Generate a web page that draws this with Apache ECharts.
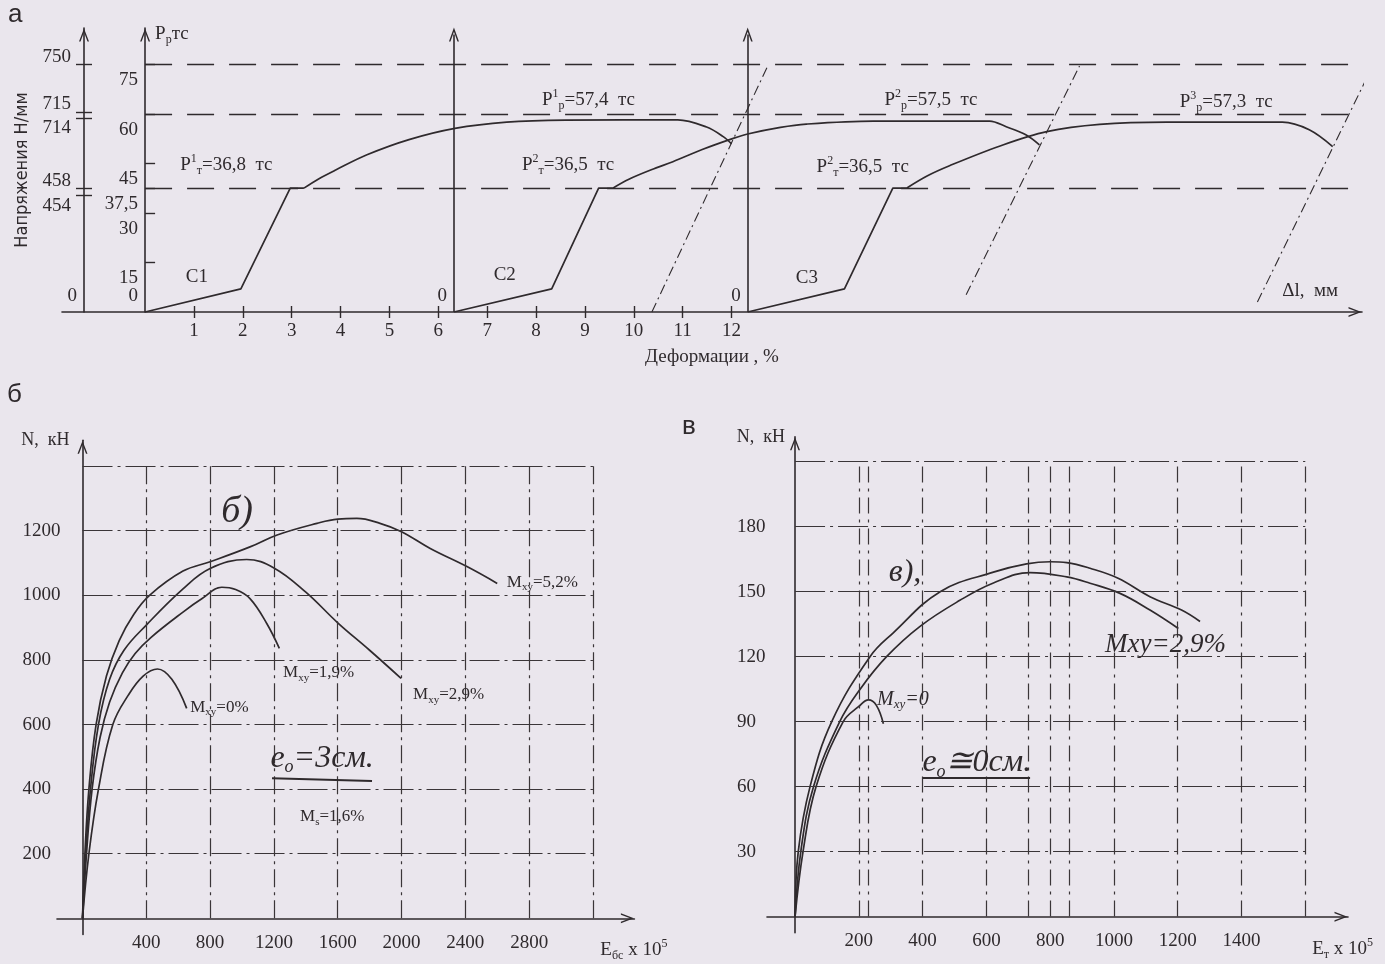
<!DOCTYPE html>
<html><head><meta charset="utf-8">
<script src="https://cdn.jsdelivr.net/npm/echarts@6/dist/echarts.min.js"></script>
<style>html,body{margin:0;padding:0;background:#eae6ed;}#c{width:1385px;height:964px;}</style>
</head><body><div id="c"></div>
<script>
// ================= DATA =================
// Panel а : load (тс) versus strain (%)
const strainTicks = [1,2,3,4,5,6,7,8,9,10,11,12];
const loadTicks = [15, 30, 37.5, 45, 60, 75];
const stressText = ['750','715','714','458','454'];
const stressAt = [75, 60.6, 58.8, 37.5, 35.4];          // level on the load scale
const specimenOrigin = [0, 6.32, 12.33];
const specimenName = ['C1','C2','C3'];
const yieldSup = ['1','2','2'];
const yieldLoad = [36.8, 36.5, 36.5];
const ultSup = ['1','2','3'];
const ultimateLoad = [57.4, 57.5, 57.3];
const levelLoad = [75, 60, 37.5];
const c1Elastic = [[0,0],[1.96,7],[2.97,37.5],[3.25,37.5]];
const c1Hardening = [[3.25,37.5],[3.55,40.3],[3.9,43.0],[4.54,47.6],[5.4,52.2],[6.34,55.6],[7.4,57.5],[8.6,58.1],[10.9,58.2],[11.49,56],[11.83,53.1],[12.0,50.9]];
const c2Elastic = [[6.32,0],[8.32,7],[9.28,37.5],[9.57,37.5]];
const c2Hardening = [[9.57,37.5],[9.9,40.2],[10.4,43.3],[10.8,45.5],[11.4,49.2],[12.02,52.5],[12.33,53.9],[13.0,55.9],[13.53,56.9],[14.9,57.8],[17.28,57.8],[17.62,56.1],[18.03,53.6],[18.3,50.6]];
const c3Elastic = [[12.33,0],[14.31,7],[15.3,37.5],[15.58,37.5]];
const c3Hardening = [[15.58,37.5],[16.0,41.2],[16.46,44.3],[17.48,50.2],[18.45,54.6],[19.53,56.8],[20.9,57.5],[23.27,57.5],[23.82,55.2],[24.3,50.1]];
const ruptureLines = [[[10.37,0],[12.74,74.5]],[[16.8,5.2],[19.12,74.5]],[[22.76,3],[25.1,74]]];

// Panel б : N (кН) versus E_бс x 10^5
const bETicks = [400,800,1200,1600,2000,2400,2800];
const bNTicks = [200,400,600,800,1000,1200];
const bGridE = [400,800,1200,1600,2000,2400,2800,3200];
const bGridN = [200,400,600,800,1000,1200,1400];
const bCurve52 = [[0,0],[15,200],[40,400],[85,600],[150,750],[230,860],[320,940],[420,1000],[630,1075],[800,1104],[1050,1150],[1220,1187],[1470,1223],[1600,1236],[1720,1238],[1865,1223],[2000,1197],[2180,1145],[2410,1089],[2600,1037]];
const bCurve29 = [[0,0],[20,200],[50,400],[100,600],[170,740],[260,830],[400,908],[630,1020],[800,1083],[1029,1111],[1200,1085],[1400,1010],[1600,915],[1800,830],[1997,743]];
const bCurve19 = [[0,0],[25,200],[60,400],[110,560],[170,670],[250,760],[330,820],[430,870],[632,949],[750,990],[873,1025],[960,1018],[1050,990],[1155,913],[1234,836]];
const bCurve0  = [[0,0],[40,200],[100,400],[190,600],[287,691],[380,750],[470,772],[560,740],[653,650]];
const bMxy = ['5,2%','2,9%','1,9%','0%'];
const bMs = '1,6%';

// Panel в : N (кН) versus E_т x 10^5
const cETicks = [200,400,600,800,1000,1200,1400];
const cNTicks = [30,60,90,120,150,180];
const cGridE = [200,230,400,600,730,800,860,1000,1200,1400,1600];
const cGridN = [30,60,90,120,150,180,210];
const cCurveA = [[0,0],[10,30],[47,60],[115,90],[235,120],[308,131],[455,150],[622,159],[726,162.8],[800,163.8],[852,163.4],[925,160.8],[1013,156.2],[1113,147.7],[1212,141.5],[1270,136.2]];
const cCurveB = [[0,0],[18,30],[58,60],[140,90],[204,105],[287,120],[392,134],[517,146],[622,154],[737,158.8],[852,156.8],[925,153.9],[1019,149.2],[1113,141.5],[1202,133]];
const cCurve0 = [[0,0],[25,30],[66,60],[151,90],[200,97],[230,100],[255,97.5],[277,89]];
const cMxy = '2,9%';

// ================= LAYOUT / STYLE =================
const INK = '#2f2a2d';
const SERIF = "'Liberation Serif','DejaVu Serif',serif";
const SANS = "'Liberation Sans','DejaVu Sans',sans-serif";
const NARROW = "'Liberation Sans Narrow','DejaVu Sans Condensed','Liberation Sans',sans-serif";
const CHEV = 'path://M5,0 L10,13 L8.5,13 L5,3.8 L1.5,13 L0,13 Z';
const P_PER_PX = 86/284;
const fmt = v => String(v).replace('.', ',');
const plain = v => String(v);
const nearestIdx = (arr, v) => { let b=0; arr.forEach((a,i)=>{ if(Math.abs(a-v)<Math.abs(arr[b]-v)) b=i; }); return b; };

const RICH = {
  t:{fontFamily:SERIF,fontSize:19,color:INK,lineHeight:24},
  sup:{fontFamily:SERIF,fontSize:12,color:INK,lineHeight:12,verticalAlign:'top'},
  sub:{fontFamily:SERIF,fontSize:12,color:INK,lineHeight:12,verticalAlign:'bottom'},
  m:{fontFamily:SERIF,fontSize:17,color:INK,lineHeight:22},
  ms:{fontFamily:SERIF,fontSize:11,color:INK,lineHeight:11,verticalAlign:'bottom'},
  h:{fontFamily:SERIF,fontStyle:'italic',fontSize:32,color:INK,lineHeight:36},
  hs:{fontFamily:SERIF,fontStyle:'italic',fontSize:18,color:INK,lineHeight:18,verticalAlign:'bottom'},
  hb:{fontFamily:SERIF,fontStyle:'italic',fontSize:38,color:INK,lineHeight:40},
  hm:{fontFamily:SERIF,fontStyle:'italic',fontSize:27,color:INK,lineHeight:30},
  hn:{fontFamily:SERIF,fontStyle:'italic',fontSize:20,color:INK,lineHeight:22},
  hns:{fontFamily:SERIF,fontStyle:'italic',fontSize:13,color:INK,lineHeight:13,verticalAlign:'bottom'}
};

// label anchors (data units of each panel)
const aYieldAt = [[0.72,44.5],[7.71,44.5],[13.74,43.9]];
const aUltAt = [[8.12,64.2],[15.13,64.2],[21.17,63.7]];
const aNameAt = [[1.06,10.6],[7.36,11.2],[13.54,10.3]];
const aDeltaAt = [23.27,6.4];
const stressAxisDataX = -1.7 + 22/48.87;
const stressNudgePx = [7,8,-10,7,-11];

const bMxyAt = [[2660,1041],[2072,692],[1257,762],[675,654]];
const bMsAt = [1364,314];
const bTitleAt = [969,1258];
const bEccAt = [1502,496];
const bEccLine = [[1188,434],[1815,425]];

const cTitleAt = [345,159];
const cMxyAt = [972,125.4];
const cM0At = [257,100];
const cEccAt = [570,71];
const cEccLine = [[401,64],[737,64]];

// ================= HELPERS =================
const lineSt = {color:INK,width:1.6};
const arrowLine = {show:true,onZero:false,symbol:['none',CHEV],symbolSize:[10,14],symbolOffset:[0,-7],lineStyle:lineSt};
function curve(xi, data, smooth){
  return {type:'line', xAxisIndex:xi, yAxisIndex:xi===0?0:(xi===2?3:4), data, smooth:smooth||false,
    symbol:'none', silent:true, lineStyle:{color:INK,width:1.7}, z:4};
}
function marks(xi, yi, pairs, style, endSym){
  return {type:'line', xAxisIndex:xi, yAxisIndex:yi, data:[], silent:true,
    markLine:{silent:true, animation:false, symbol:['none', endSym||'none'], symbolSize:[10,14],
      label:{show:false}, emphasis:{disabled:true}, lineStyle:style,
      data: pairs.map(p=>[{coord:p[0]},{coord:p[1]}])}};
}
function labels(xi, yi, items){
  return {type:'scatter', xAxisIndex:xi, yAxisIndex:yi, symbolSize:1, silent:true, z:6,
    itemStyle:{color:'rgba(0,0,0,0)', opacity:1},
    label:{show:true, position:'inside', verticalAlign:'middle', rich:RICH, color:INK, opacity:1,
      textBorderWidth:0},
    data: items.map(it=>({value:it.at, label:{formatter:it.text, align:it.align||'left',
      offset:it.offset||[0,0]}}))};
}

// ================= OPTION =================
const stressLabelPos = [4.85].concat(stressAt.map((v,i)=>v+stressNudgePx[i]*P_PER_PX));
const stressLabelTxt = [''].concat(stressText);
const loadLabelPos = loadTicks.map(v=>v-16*P_PER_PX);

const tickSt = {color:INK,width:1.4};
const lab = {color:INK,fontFamily:SERIF,fontSize:19};

const option = {
  backgroundColor:'#eae6ed',
  animation:false,
  graphic:[
    {type:'text', left:8, top:2, style:{text:'а', font:'26px '+SANS, fill:INK}},
    {type:'text', left:7, top:382, style:{text:'б', font:'26px '+SANS, fill:INK}},
    {type:'text', left:682, top:414, style:{text:'в', font:'26px '+SANS, fill:INK}}
  ],
  grid:[
    {left:62, top:28, width:1300, height:284, outerBoundsMode:'none', containLabel:false},
    {left:57, top:440.3, width:577.4, height:494.2, outerBoundsMode:'none', containLabel:false},
    {left:767, top:436.8, width:581, height:496, outerBoundsMode:'none', containLabel:false}
  ],
  xAxis:[
    {gridIndex:0, type:'value', position:'bottom', min:-1.7, max:24.9, axisLine:arrowLine,
      axisTick:{show:true,customValues:strainTicks,length:6,lineStyle:tickSt},
      axisLabel:{show:true,customValues:strainTicks,margin:10,...lab},
      splitLine:{show:false},
      name:'Деформации , %', nameLocation:'middle', nameGap:36,
      nameTextStyle:{color:INK,fontFamily:SERIF,fontSize:19}},
    {gridIndex:0, type:'value', position:'bottom', min:-1.7, max:24.9, axisLine:{show:false,onZero:false},
      axisTick:{show:true,inside:true,customValues:strainTicks,length:6,lineStyle:tickSt},
      axisLabel:{show:false}, splitLine:{show:false}},
    {gridIndex:1, type:'value', position:'bottom', min:-160, max:3460, offset:-16.2, axisLine:arrowLine,
      axisTick:{show:false}, axisLabel:{show:true,customValues:bETicks,margin:15,formatter:plain,...lab},
      splitLine:{show:false},
      name:'{t|E}{sub|бс}{t| x 10}{sup|5}', nameLocation:'end', nameGap:33,
      nameTextStyle:{align:'right',verticalAlign:'top',padding:[20,0,0,0],rich:RICH}},
    {gridIndex:2, type:'value', position:'bottom', min:-88, max:1734, offset:-16.1, axisLine:arrowLine,
      axisTick:{show:false}, axisLabel:{show:true,customValues:cETicks,margin:15,formatter:plain,...lab},
      splitLine:{show:false},
      name:'{t|E}{sub|т}{t| x 10}{sup|5}', nameLocation:'end', nameGap:25,
      nameTextStyle:{align:'right',verticalAlign:'top',padding:[20,0,0,0],rich:RICH}}
  ],
  yAxis:[
    {gridIndex:0, type:'value', min:0, max:86, position:'left', offset:-83.1, axisLine:arrowLine,
      axisTick:{show:true,inside:true,customValues:loadTicks,length:10,lineStyle:tickSt},
      axisLabel:{show:true,customValues:loadLabelPos,margin:7,...lab,
        formatter:v=>fmt(loadTicks[nearestIdx(loadLabelPos,v)])},
      splitLine:{show:false},
      name:'{t|P}{sub|p}{t|тс}', nameLocation:'end', nameGap:-6,
      nameTextStyle:{align:'left',verticalAlign:'middle',padding:[0,0,0,10],rich:RICH}},
    {gridIndex:0, type:'value', min:0, max:86, position:'left', offset:-22, axisLine:arrowLine,
      axisTick:{show:true,inside:false,customValues:stressAt,length:8,lineStyle:tickSt},
      axisLabel:{show:true,customValues:stressLabelPos,margin:13,...lab,
        formatter:v=>stressLabelTxt[nearestIdx(stressLabelPos,v)]},
      splitLine:{show:false},
      name:'Напряжения Н/мм', nameLocation:'middle', nameRotate:90, nameGap:44,
      nameTextStyle:{color:INK,fontFamily:NARROW,fontSize:18}},
    {gridIndex:0, type:'value', min:0, max:86, position:'left', offset:-22,
      axisLine:{show:false,onZero:false}, axisTick:{show:true,inside:true,customValues:stressAt,length:8,lineStyle:tickSt},
      axisLabel:{show:false}, splitLine:{show:false}},
    {gridIndex:1, type:'value', min:-50, max:1480, position:'left', offset:-25.5, axisLine:arrowLine,
      axisTick:{show:false}, axisLabel:{show:true,customValues:bNTicks,align:'left',margin:60,formatter:plain,...lab},
      splitLine:{show:false},
      name:'N,  кН', nameLocation:'end', nameGap:0,
      nameTextStyle:{align:'right',verticalAlign:'middle',padding:[0,13,0,0],color:INK,fontFamily:SERIF,fontSize:18}},
    {gridIndex:2, type:'value', min:-7.5, max:221.5, position:'left', offset:-28, axisLine:arrowLine,
      axisTick:{show:false}, axisLabel:{show:true,customValues:cNTicks,align:'left',margin:58,formatter:plain,...lab},
      splitLine:{show:false},
      name:'N,  кН', nameLocation:'end', nameGap:0,
      nameTextStyle:{align:'right',verticalAlign:'middle',padding:[0,10,0,0],color:INK,fontFamily:SERIF,fontSize:18}}
  ],
  series:[]
};

const S = option.series;
// ---- panel а
S.push(marks(0,0, levelLoad.map(v=>[[0,v],[24.8,v]]), {color:INK,width:1.3,type:[27,15]}));
S.push(marks(0,0, specimenOrigin.slice(1).map(o=>[[o,0],[o,84]]), {color:INK,width:1.6,type:'solid'}, CHEV));
ruptureLines.forEach(l=>S.push({type:'line',xAxisIndex:0,yAxisIndex:0,data:l,symbol:'none',silent:true,clip:false,
  lineStyle:{color:INK,width:1.1,type:[10,4,2,4]}}));
[[c1Elastic,c1Hardening],[c2Elastic,c2Hardening],[c3Elastic,c3Hardening]].forEach(([e,h])=>{
  S.push(curve(0,e,false)); S.push(curve(0,h,0.35));
});
const aItems = [];
specimenOrigin.forEach((o,i)=>{
  aItems.push({at:aYieldAt[i], text:`{t|P}{sup|${yieldSup[i]}}{sub|т}{t|=${fmt(yieldLoad[i])}  тс}`});
  aItems.push({at:aUltAt[i], text:`{t|P}{sup|${ultSup[i]}}{sub|p}{t|=${fmt(ultimateLoad[i])}  тс}`});
  aItems.push({at:aNameAt[i], text:`{t|${specimenName[i]}}`, align:'center'});
});
[stressAxisDataX].concat(specimenOrigin).forEach(o=>aItems.push({at:[o,0], text:'{t|0}', align:'right', offset:[-7,-16]}));
aItems.push({at:aDeltaAt, text:'{t|Δl,  мм}'});
S.push(labels(0,0,aItems));

// ---- panel б
const bGridSt = {color:'#3a3538',width:1.2,type:[30,5,3,5]};
S.push(marks(2,3, bGridN.map(n=>[[0,n],[3200,n]]), bGridSt));
S.push(marks(2,3, bGridE.map(e=>[[e,0],[e,1400]]), {color:'#3a3538',width:1.2,type:[18,5,3,5]}));
[bCurve52,bCurve29,bCurve19,bCurve0].forEach(c=>S.push(curve(2,c,0.4)));
const bItems = bMxyAt.map((p,i)=>({at:p, text:`{m|M}{ms|xy}{m|=${bMxy[i]}}`}));
bItems.push({at:bMsAt, text:`{m|M}{ms|s}{m|=${bMs}}`});
bItems.push({at:bTitleAt, text:'{hb|б)}', align:'center'});
bItems.push({at:bEccAt, text:'{h|e}{hs|о}{h|=3см.}', align:'center'});
S.push(labels(2,3,bItems));
S.push(marks(2,3,[bEccLine],{color:INK,width:2,type:'solid'}));

// ---- panel в
const cGridSt = {color:'#3a3538',width:1.2,type:[30,5,3,5]};
S.push(marks(3,4, cGridN.map(n=>[[0,n],[1600,n]]), cGridSt));
S.push(marks(3,4, cGridE.map(e=>[[e,0],[e,210]]), {color:'#3a3538',width:1.2,type:[16,6,3,6]}));
[cCurveA,cCurveB,cCurve0].forEach(c=>S.push(curve(3,c,0.4)));
S.push(labels(3,4,[
  {at:cTitleAt, text:'{h|в),}', align:'center'},
  {at:cMxyAt, text:`{hm|Mxy=${cMxy}}`},
  {at:cM0At, text:'{hn|M}{hns|xy}{hn|=0}'},
  {at:cEccAt, text:'{h|e}{hs|о}{h|≅0см.}', align:'center'}
]));
S.push(marks(3,4,[cEccLine],{color:INK,width:2,type:'solid'}));

const chart = echarts.init(document.getElementById('c'));
chart.setOption(option);
</script>
</body></html>
